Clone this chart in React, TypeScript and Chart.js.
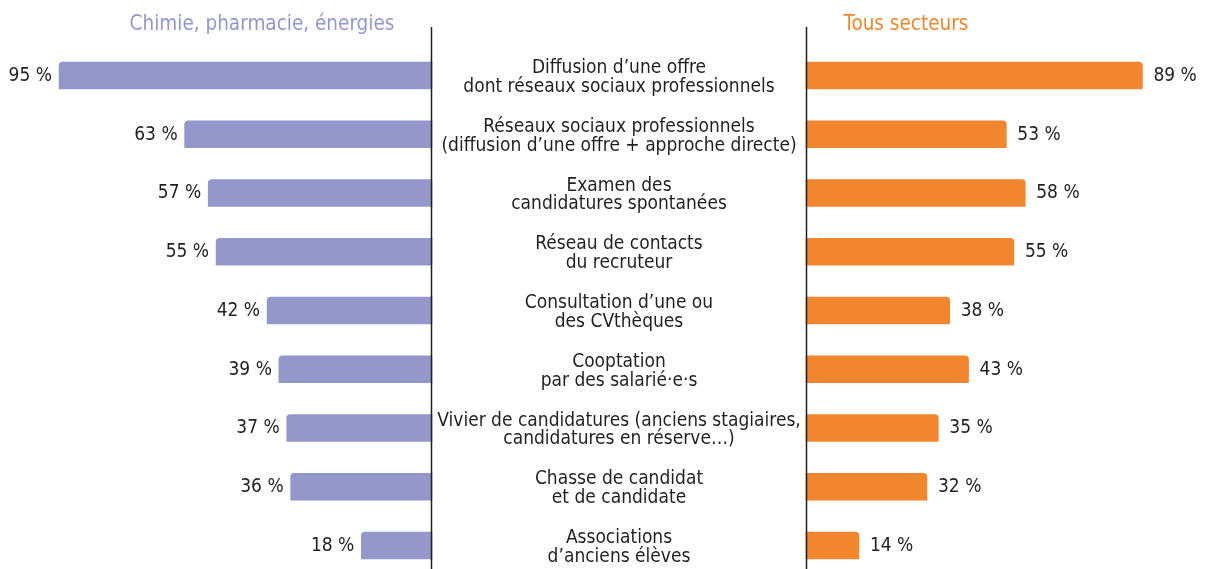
import React, { useEffect, useRef } from "react";
import { Chart, registerables } from "chart.js";

Chart.register(...registerables);

// ---- Data ----
const categories: string[][] = [
  ["Diffusion d’une offre", "dont réseaux sociaux professionnels"],
  ["Réseaux sociaux professionnels", "(diffusion d’une offre + approche directe)"],
  ["Examen des", "candidatures spontanées"],
  ["Réseau de contacts", "du recruteur"],
  ["Consultation d’une ou", "des CVthèques"],
  ["Cooptation", "par des salarié·e·s"],
  ["Vivier de candidatures (anciens stagiaires,", "candidatures en réserve…)"],
  ["Chasse de candidat", "et de candidate"],
  ["Associations", "d’anciens élèves"],
];
const chimieValues: number[] = [95, 63, 57, 55, 42, 39, 37, 36, 18];
const tousValues: number[] = [89, 53, 58, 55, 38, 43, 35, 32, 14];
const seriesTitles: string[] = ["Chimie, pharmacie, énergies", "Tous secteurs"];

// ---- Style ----
const W = 1207;
const H = 569;
const FONT = '"DejaVu Sans Condensed", "DejaVu Sans", sans-serif';
const PURPLE = "#9497CA";
const ORANGE = "#F2862F";
const TEXT = "#231F20";
const LINE_TOP = 27;
const CENTER_X = 619;

function makeOptions(reverse: boolean, padLeft: number, padRight: number) {
  return {
    responsive: false,
    animation: false as const,
    indexAxis: "y" as const,
    layout: { padding: { left: padLeft, right: padRight, top: 75.5, bottom: 23.5 } },
    plugins: { legend: { display: false }, tooltip: { enabled: false } },
    scales: {
      x: { type: "linear" as const, min: 0, max: 100, reverse, display: false, grid: { display: false } },
      y: { type: "category" as const, offset: false, display: false, grid: { display: false } },
    },
  };
}

export default function App() {
  const leftRef = useRef<HTMLCanvasElement>(null);
  const rightRef = useRef<HTMLCanvasElement>(null);

  useEffect(() => {
    const labels = categories.map((c) => c.join(" "));

    const leftPlugin = {
      id: "leftDecor",
      afterDatasetsDraw(chart: any) {
        const ctx = chart.ctx;
        const area = chart.chartArea;
        const meta = chart.getDatasetMeta(0);
        ctx.save();
        // value labels
        ctx.fillStyle = TEXT;
        ctx.font = `19px ${FONT}`;
        ctx.textAlign = "right";
        ctx.textBaseline = "middle";
        meta.data.forEach((bar: any, i: number) => {
          ctx.fillText(`${chimieValues[i]} %`, bar.x - 7, bar.y + 0.5);
        });
        // center category labels
        ctx.textAlign = "center";
        meta.data.forEach((bar: any, i: number) => {
          const lines = categories[i];
          const lh = 18.8;
          const cy = bar.y + 2;
          lines.forEach((ln, j) => {
            ctx.fillText(ln, CENTER_X, cy + (j - (lines.length - 1) / 2) * lh);
          });
        });
        // axis line
        ctx.strokeStyle = TEXT;
        ctx.lineWidth = 1.5;
        ctx.beginPath();
        ctx.moveTo(area.right - 0.5, LINE_TOP);
        ctx.lineTo(area.right - 0.5, H);
        ctx.stroke();
        // title
        ctx.fillStyle = PURPLE;
        ctx.font = `20.5px ${FONT}`;
        ctx.textBaseline = "alphabetic";
        ctx.fillText(seriesTitles[0], 262, 29.5);
        ctx.restore();
      },
    };

    const rightPlugin = {
      id: "rightDecor",
      afterDatasetsDraw(chart: any) {
        const ctx = chart.ctx;
        const area = chart.chartArea;
        const meta = chart.getDatasetMeta(0);
        ctx.save();
        ctx.fillStyle = TEXT;
        ctx.font = `19px ${FONT}`;
        ctx.textAlign = "left";
        ctx.textBaseline = "middle";
        meta.data.forEach((bar: any, i: number) => {
          ctx.fillText(`${tousValues[i]} %`, bar.x + 11, bar.y + 0.5);
        });
        ctx.strokeStyle = TEXT;
        ctx.lineWidth = 1.5;
        ctx.beginPath();
        ctx.moveTo(area.left + 0.5, LINE_TOP);
        ctx.lineTo(area.left + 0.5, H);
        ctx.stroke();
        ctx.fillStyle = ORANGE;
        ctx.font = `20.5px ${FONT}`;
        ctx.textAlign = "center";
        ctx.textBaseline = "alphabetic";
        ctx.fillText(seriesTitles[1], 906, 29.5);
        ctx.restore();
      },
    };

    const left = new Chart(leftRef.current as HTMLCanvasElement, {
      type: "bar",
      data: {
        labels,
        datasets: [
          {
            label: seriesTitles[0],
            data: chimieValues,
            backgroundColor: PURPLE,
            barThickness: 27,
            borderWidth: 0,
            borderSkipped: false,
            borderRadius: { topLeft: 4, topRight: 0, bottomLeft: 0, bottomRight: 0 },
            clip: false,
          } as any,
        ],
      },
      options: makeOptions(true, 39.4, W - 432) as any,
      plugins: [leftPlugin],
    });

    const right = new Chart(rightRef.current as HTMLCanvasElement, {
      type: "bar",
      data: {
        labels,
        datasets: [
          {
            label: seriesTitles[1],
            data: tousValues,
            backgroundColor: ORANGE,
            barThickness: 27,
            borderWidth: 0,
            borderSkipped: false,
            borderRadius: { topLeft: 0, topRight: 4, bottomLeft: 0, bottomRight: 0 },
            clip: false,
          } as any,
        ],
      },
      options: makeOptions(false, 806, W - 806 - 378) as any,
      plugins: [rightPlugin],
    });

    return () => {
      left.destroy();
      right.destroy();
    };
  }, []);

  return (
    <div style={{ position: "absolute", left: 0, top: 0, width: W, height: H, background: "#fff", overflow: "hidden" }}>
      <canvas ref={leftRef} width={W} height={H} style={{ position: "absolute", left: 0, top: 0 }} />
      <canvas ref={rightRef} width={W} height={H} style={{ position: "absolute", left: 0, top: 0 }} />
    </div>
  );
}
